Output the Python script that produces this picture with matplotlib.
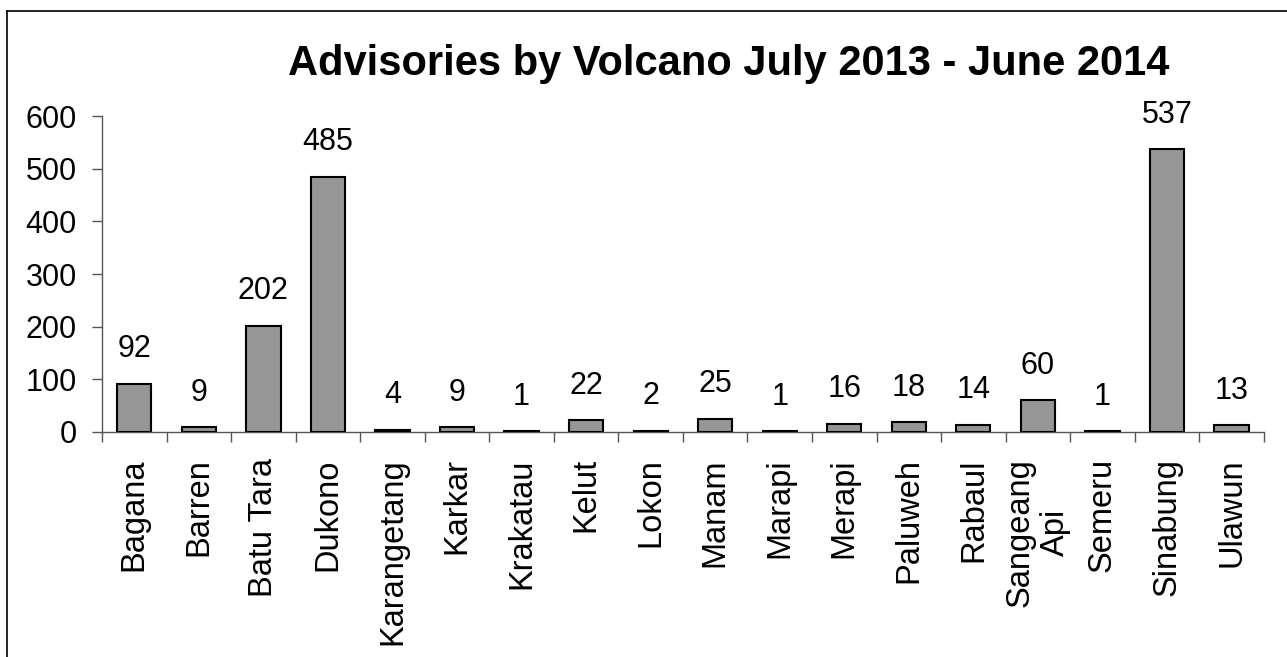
import numpy as np
import matplotlib.pyplot as plt
from matplotlib.lines import Line2D

# Dados
volcanoes = ['Bagana', 'Barren', 'Batu Tara', 'Dukono', 'Karangetang', 'Karkar',
             'Krakatau', 'Kelut', 'Lokon', 'Manam', 'Marapi', 'Merapi', 'Paluweh',
             'Rabaul', 'Sangeang\nApi', 'Semeru', 'Sinabung', 'Ulawun']
advisories = [92, 9, 202, 485, 4, 9, 1, 22, 2, 25, 1, 16, 18, 14, 60, 1, 537, 13]
yticks = [0, 100, 200, 300, 400, 500, 600]

plt.rcParams['font.family'] = ['Liberation Sans', 'DejaVu Sans']

fig = plt.figure(figsize=(12.87, 6.57), dpi=100)
ax = fig.add_axes([0.0793, 0.3425, 0.9027, 0.4809])

x = np.arange(len(volcanoes))
ax.bar(x, advisories, width=0.53, color='#969696', edgecolor='black', linewidth=1.5, zorder=3)

for xi, v in zip(x, advisories):
    ax.annotate(str(v), (xi, v), xytext=(0, 14), textcoords='offset points',
                ha='center', va='bottom', fontsize=22)

ax.set_xlim(-0.5, len(volcanoes) - 0.5)
ax.set_ylim(0, 600)
ax.set_yticks(yticks)
ax.set_yticklabels([str(t) for t in yticks], fontsize=22)

# ticks entre categorias, rótulos no centro
ax.set_xticks(np.arange(-0.5, len(volcanoes)), minor=False)
ax.set_xticklabels([])
ax.set_xticks(x, minor=True)
ax.set_xticklabels(volcanoes, minor=True, rotation=90, fontsize=23.5,
                   ha='center', va='top', multialignment='center')
ax.tick_params(axis='x', which='major', length=7.5, width=1, color='#555555', direction='out')
ax.tick_params(axis='x', which='minor', length=0, pad=19)
ax.tick_params(axis='y', length=7.2, width=1, color='#555555', pad=11)

for s in ['top', 'right']:
    ax.spines[s].set_visible(False)
for s in ['left', 'bottom']:
    ax.spines[s].set_color('#555555')
    ax.spines[s].set_linewidth(1)

fig.text(0.566, 0.903, 'Advisories by Volcano July 2013 - June 2014',
         ha='center', va='center', fontsize=30, fontweight='bold')

# borda da figura (esquerda e topo)
fig.add_artist(Line2D([7 / 1287, 7 / 1287], [0, 1 - 10.5 / 657], color='black', lw=1.2))
fig.add_artist(Line2D([7 / 1287, 1], [1 - 10.5 / 657, 1 - 10.5 / 657], color='black', lw=1.2))

fig.savefig('out.png', dpi=100)
